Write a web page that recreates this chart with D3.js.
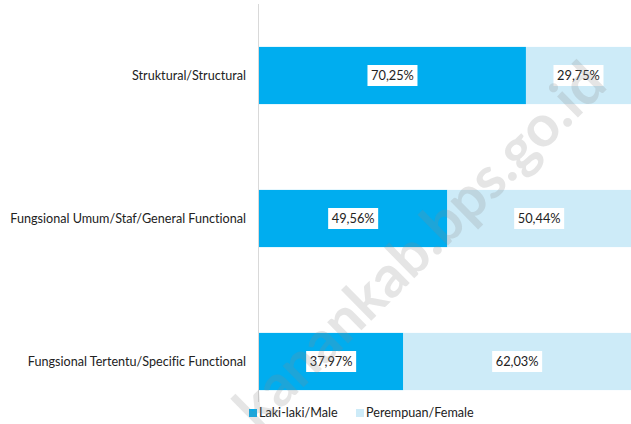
<!DOCTYPE html>
<html><head><meta charset="utf-8">
<script src="https://cdn.jsdelivr.net/npm/d3@7"></script>
<style>html,body{margin:0;padding:0;background:#fff;overflow:hidden} text{font-variant-ligatures:none;font-feature-settings:"liga" 0}</style>
</head><body>
<svg id="chart" width="631" height="424"></svg>
<script>
const categories = ["Struktural/Structural", "Fungsional Umum/Staf/General Functional", "Fungsional Tertentu/Specific Functional"];
const maleValues = [70.25, 49.56, 37.97];
const femaleValues = [29.75, 50.44, 62.03];
const seriesNames = ["Laki-laki/Male", "Perempuan/Female"];
const seriesColors = ["#00adef", "#cdebf8"];
const watermark = "kanankab.bps.go.id";

const svg = d3.select("#chart");
const font = "Lato, 'Open Sans', sans-serif";

const x = d3.scaleLinear().domain([0, 100]).range([259, 639]);
const y = d3.scaleBand().domain(categories).range([4, 433]).paddingInner(0.6).paddingOuter(0.3);

const rows = categories.map((c, i) => ({cat: c, vals: [maleValues[i], femaleValues[i]]}));
const stacked = d3.stack().keys([0, 1]).value((d, k) => d.vals[k])(rows);

// axis line
svg.append("line").attr("x1", 258.5).attr("x2", 258.5).attr("y1", 4).attr("y2", 402)
  .attr("stroke", "#d9d9d9").attr("stroke-width", 1);

// bars
stacked.forEach((layer, k) => {
  svg.append("g").selectAll("rect").data(layer).join("rect")
    .attr("x", d => x(d[0]))
    .attr("width", d => x(d[1]) - x(d[0]))
    .attr("y", (d, i) => y(categories[i]))
    .attr("height", y.bandwidth())
    .attr("fill", seriesColors[k]);
});

// data labels
stacked.forEach((layer, k) => {
  layer.forEach((d, i) => {
    const mid = (x(d[0]) + Math.min(x(d[1]), 631)) / 2;
    const cy = y(categories[i]) + y.bandwidth() / 2;
    const g = svg.append("g");
    g.append("rect").attr("x", mid - 25).attr("y", cy - 10.5)
      .attr("width", 50).attr("height", 21).attr("fill", "#fff");
    g.append("text").attr("x", mid).attr("y", cy).attr("dy", "0.35em")
      .attr("text-anchor", "middle").attr("font-family", font).attr("font-size", 12.8)
      .attr("fill", "#222").text(d3.format(".2f")(d.data.vals[k]).replace(".", ",") + "%");
  });
});

// category labels
svg.append("g").selectAll("text").data(categories).join("text")
  .attr("x", 246).attr("y", d => y(d) + y.bandwidth() / 2).attr("dy", "0.35em")
  .attr("text-anchor", "end").attr("font-family", font).attr("font-size", 12.6)
  .attr("fill", "#222").text(d => d);

// legend
const legendX = [249, 356];
seriesNames.forEach((n, k) => {
  svg.append("rect").attr("x", legendX[k]).attr("y", 409).attr("width", 8).attr("height", 8).attr("fill", seriesColors[k]);
  svg.append("text").attr("x", legendX[k] + 10).attr("y", 413).attr("dy", "0.35em")
    .attr("font-family", font).attr("font-size", 12.6).attr("fill", "#222").text(n);
});

// watermark
svg.append("text").attr("transform", "translate(258,432) rotate(-44.5)")
  .attr("font-family", font).attr("font-weight", "bold").attr("font-size", 58)
  .attr("fill", "#888").attr("fill-opacity", 0.22).text(watermark);
</script>
</body></html>
